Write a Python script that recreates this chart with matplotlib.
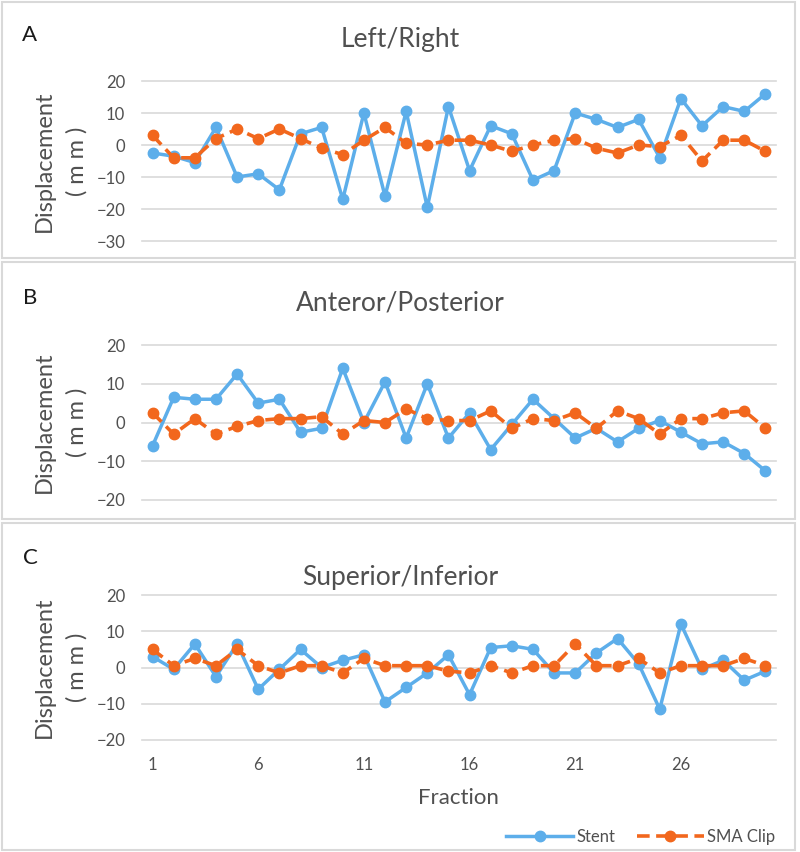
from matplotlib import pyplot as plt
from matplotlib.patches import Rectangle
import numpy

# fraction numbers 1..30
fraction = list(range(1, 31))

# Left/Right displacement (mm)
lr_stent = [-2.5, -3.5, -5.5, 5.5, -10, -9, -14, 3.5, 5.5, -17,
            10, -16, 10.5, -19.5, 12, -8, 6, 3.5, -11, -8,
            10, 8, 5.5, 8, -4, 14.5, 6, 12, 10.5, 16]
lr_clip = [3, -4, -4, 2, 5, 2, 5, 2, -1, -3,
           1.5, 5.5, 0.5, 0, 1.5, 1.5, 0, -2, 0, 1.5,
           2, -1, -2.5, 0, -0.5, 3, -5, 1.5, 1.5, -2]

# Anterior/Posterior displacement (mm)
ap_stent = [-6, 6.5, 6, 6, 12.5, 5, 6, -2.5, -1.5, 14,
            0, 10.5, -4, 10, -4, 2.5, -7, -0.5, 6, 1,
            -4, -1.5, -5, -1.5, 0.5, -2.5, -5.5, -5, -8, -12.5]
ap_clip = [2.5, -3, 1, -3, -1, 0.5, 1, 1, 1.5, -3,
           0.5, 0, 3.5, 1, 0.5, 0.5, 3, -1.5, 1, 0.5,
           2.5, -1.5, 3, 1, -3, 1, 1, 2.5, 3, -1.5]

# Superior/Inferior displacement (mm)
si_stent = [3, -0.5, 6.5, -2.5, 6.5, -6, -0.5, 5, 0, 2,
            3.5, -9.5, -5.5, -1.5, 3.5, -7.5, 5.5, 6, 5, -1.5,
            -1.5, 4, 8, 1, -11.5, 12, -0.5, 2, -3.5, -1]
si_clip = [5, 0.5, 2.5, 0.5, 5, 0.5, -1.5, 0.5, 0.5, -1.5,
           2.5, 0.5, 0.5, 0.5, -1, -1.5, 0.5, -1.5, 0.5, 0.5,
           6.5, 0.5, 0.5, 2.5, -1.5, 0.5, 0.5, 0.5, 2.5, 0.5]

panel_letters = ['A', 'B', 'C']
panel_titles = ['Left/Right', 'Anteror/Posterior', 'Superior/Inferior']
stent_data = [lr_stent, ap_stent, si_stent]
clip_data = [lr_clip, ap_clip, si_clip]
y_ranges = [(-30, 20), (-20, 20), (-20, 20)]
xtick_vals = [1, 6, 11, 16, 21, 26]

plt.rcParams['font.family'] = ['Lato', 'DejaVu Sans']

W, H = 800.0, 852.0
txt_col = '#505050'
grid_col = '#d9d9d9'
blue = '#5DAEEA'
orange = '#F2671D'

fig = plt.figure(figsize=(8, 8.52), dpi=100)
fig.patch.set_facecolor('white')

# panel boxes (x0, y_top, y_bottom) in pixels
boxes = [(2, 2, 258), (2, 262, 519), (2, 523, 850)]
for x0, yt, yb in boxes:
	fig.patches.append(Rectangle((x0/W, 1-yb/H), (795-x0)/W, (yb-yt)/H, transform=fig.transFigure,
	                             fill=False, edgecolor=grid_col, lw=1.5))

# plot areas: (top px, bottom px)
areas = [(81, 241), (345, 500), (595, 740)]
titles_y = [40, 303, 578]
letters_y = [35, 298, 558]
left, right = 142, 776

lines = []
for i in range(3):
	yt, yb = areas[i]
	ax = fig.add_axes([left/W, 1-yb/H, (right-left)/W, (yb-yt)/H])
	ymin, ymax = y_ranges[i]
	ax.set_ylim(ymin, ymax)
	ax.set_xlim(0.5, 30.5)
	ax.set_yticks(numpy.arange(ymin, ymax+1, 10))
	ax.grid(axis='y', color=grid_col, lw=1.2, clip_on=False)
	ax.set_axisbelow(True)
	for s in ax.spines.values():
		s.set_visible(False)
	ax.tick_params(axis='both', length=0, labelsize=12, labelcolor=txt_col, pad=12)
	if i == 2:
		ax.set_xticks(xtick_vals)
	else:
		ax.set_xticks([])

	l1, = ax.plot(fraction, stent_data[i], '-o', color=blue, lw=2.5, ms=7.5, label='Stent', clip_on=False)
	l2, = ax.plot(fraction, clip_data[i], '--o', color=orange, lw=2.6, ms=7.5, dashes=(3.5, 1.8),
	              label='SMA Clip', clip_on=False)
	lines = [l1, l2]

	ymid = (yt+yb)/2.0
	fig.text(44/W, 1-ymid/H, 'Displacement', rotation=90, ha='center', va='center', fontsize=17, color=txt_col)
	fig.text(77/W, 1-ymid/H, '( m m )', rotation=90, ha='center', va='center', fontsize=17, color=txt_col)
	fig.text(400/W, 1-titles_y[i]/H, panel_titles[i], ha='center', va='center', fontsize=19, color=txt_col)
	fig.text(30/W, 1-letters_y[i]/H, panel_letters[i], ha='center', va='center', fontsize=16, color='#1a1a1a')

fig.text(458/W, 1-798/H, 'Fraction', ha='center', va='center', fontsize=16, color=txt_col)

leg = fig.legend(lines, ['Stent', 'SMA Clip'], ncol=2, loc='center right', bbox_to_anchor=(790/W, 1-837/H),
                 frameon=False, fontsize=12, handlelength=4.0, handletextpad=0.2, columnspacing=1.3)
for t in leg.get_texts():
	t.set_color(txt_col)

plt.savefig('out.png', dpi=100)
